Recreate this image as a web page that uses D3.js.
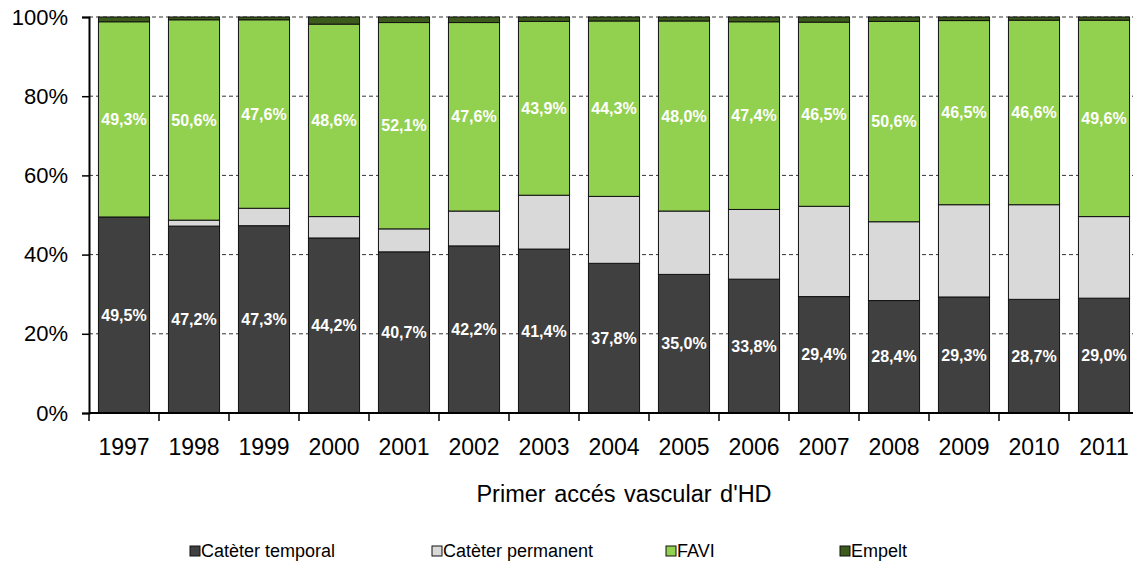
<!DOCTYPE html>
<html>
<head>
<meta charset="utf-8">
<script src="https://cdn.jsdelivr.net/npm/d3@7"></script>
<style>
  html, body { margin: 0; padding: 0; background: #fff; }
  svg { display: block; font-family: "Liberation Sans", Arial, sans-serif; }
</style>
</head>
<body>
<svg id="chart" width="1133" height="565"></svg>
<script>
// Primer accés vascular d'HD, per any (percentatges)
const years = ["1997","1998","1999","2000","2001","2002","2003","2004","2005","2006","2007","2008","2009","2010","2011"];
const temporal   = [49.5, 47.2, 47.3, 44.2, 40.7, 42.2, 41.4, 37.8, 35.0, 33.8, 29.4, 28.4, 29.3, 28.7, 29.0];
const permanent  = [0.0, 1.5, 4.4, 5.4, 5.8, 8.8, 13.6, 16.9, 16.0, 17.6, 22.8, 19.9, 23.3, 23.9, 20.6];
const favi       = [49.3, 50.6, 47.6, 48.6, 52.1, 47.6, 43.9, 44.3, 48.0, 47.4, 46.5, 50.6, 46.5, 46.6, 49.6];
const empelt     = [1.2, 0.7, 0.7, 1.8, 1.4, 1.4, 1.1, 1.0, 1.0, 1.2, 1.3, 1.1, 0.9, 0.8, 0.8];
const seriesNames = ["Catèter temporal", "Catèter permanent", "FAVI", "Empelt"];
const seriesColors = ["#404040", "#d9d9d9", "#92d050", "#3b5a1c"];
const yTicks = [0, 20, 40, 60, 80, 100];

const svg = d3.select("#chart");
const M = { left: 89, top: 17, bottom: 413 };

const rows = years.map((yr, i) => ({
  year: yr,
  "Catèter temporal": temporal[i],
  "Catèter permanent": permanent[i],
  "FAVI": favi[i],
  "Empelt": empelt[i]
}));
const stacked = d3.stack().keys(seriesNames)(rows);

const x = d3.scaleBand().domain(years).range([M.left, M.left + 70 * years.length])
  .paddingInner(0.27).paddingOuter(0.135);
const y = d3.scaleLinear().domain([0, 100]).range([M.bottom, M.top]);
const color = d3.scaleOrdinal().domain(seriesNames).range(seriesColors);
const fmt = v => d3.format(".1f")(v).replace(".", ",") + "%";

// dashed gridlines
svg.append("g").selectAll("line").data(yTicks.filter(d => d > 0)).join("line")
  .attr("x1", M.left).attr("x2", 1133)
  .attr("y1", d => y(d)).attr("y2", d => y(d))
  .attr("stroke", "#333").attr("stroke-width", 1)
  .attr("stroke-dasharray", "4,3");

// stacked bars
const layers = svg.append("g").selectAll("g").data(stacked).join("g")
  .attr("fill", d => color(d.key));
layers.selectAll("rect").data(d => d).join("rect")
  .attr("x", d => x(d.data.year))
  .attr("width", x.bandwidth())
  .attr("y", d => y(d[1]))
  .attr("height", d => y(d[0]) - y(d[1]))
  .attr("stroke", "#111").attr("stroke-width", 1);

// value labels for Catèter temporal and FAVI
const labelled = stacked.filter(s => s.key === "Catèter temporal" || s.key === "FAVI");
svg.append("g").selectAll("g").data(labelled).join("g")
  .selectAll("text").data(d => d).join("text")
  .attr("x", d => x(d.data.year) + x.bandwidth() / 2)
  .attr("y", d => (y(d[0]) + y(d[1])) / 2)
  .attr("dy", "0.35em")
  .attr("text-anchor", "middle")
  .attr("fill", "#fff")
  .attr("font-weight", "bold")
  .attr("font-size", 16)
  .text(d => fmt(d[1] - d[0]));

// y axis
const yAxis = svg.append("g").attr("transform", `translate(${M.left},0)`)
  .call(d3.axisLeft(y).tickValues(yTicks).tickFormat(d => d + "%").tickSize(7).tickPadding(14));
yAxis.select(".domain").attr("stroke", "#000").attr("stroke-width", 2);
yAxis.selectAll(".tick line").attr("stroke", "#000").attr("stroke-width", 1.5);
yAxis.selectAll("text").attr("font-size", 22).attr("fill", "#000")
  .attr("font-family", "Liberation Sans, Arial, sans-serif");

// x axis: labels centred on bars, ticks on category boundaries
const xAxis = svg.append("g").attr("transform", `translate(0,${M.bottom})`)
  .call(d3.axisBottom(x).tickSize(0).tickPadding(26));
xAxis.select(".domain").remove();
xAxis.selectAll("text").attr("font-size", 23).attr("fill", "#000")
  .attr("font-family", "Liberation Sans, Arial, sans-serif");
svg.append("line").attr("x1", M.left).attr("x2", 1133)
  .attr("y1", M.bottom).attr("y2", M.bottom)
  .attr("stroke", "#000").attr("stroke-width", 2);
const bounds = d3.range(years.length + 1).map(i => M.left + i * x.step());
svg.append("g").selectAll("line").data(bounds).join("line")
  .attr("x1", d => d).attr("x2", d => d)
  .attr("y1", M.bottom).attr("y2", M.bottom + 8)
  .attr("stroke", "#000").attr("stroke-width", 1.5);

// axis title
svg.append("text").attr("x", 624).attr("y", 502)
  .attr("text-anchor", "middle").attr("font-size", 23.5).attr("fill", "#000")
  .attr("word-spacing", 2)
  .text("Primer accés vascular d'HD");

// legend
const legendX = [190, 432, 666, 840];
const legend = svg.append("g").selectAll("g").data(seriesNames).join("g")
  .attr("transform", (d, i) => `translate(${legendX[i]},546)`);
legend.append("rect").attr("width", 10).attr("height", 10)
  .attr("fill", d => color(d)).attr("stroke", "#111").attr("stroke-width", 1);
legend.append("text").attr("x", 11).attr("y", 5).attr("dy", "0.36em")
  .attr("font-size", 18).attr("fill", "#000").text(d => d);
</script>
</body>
</html>
